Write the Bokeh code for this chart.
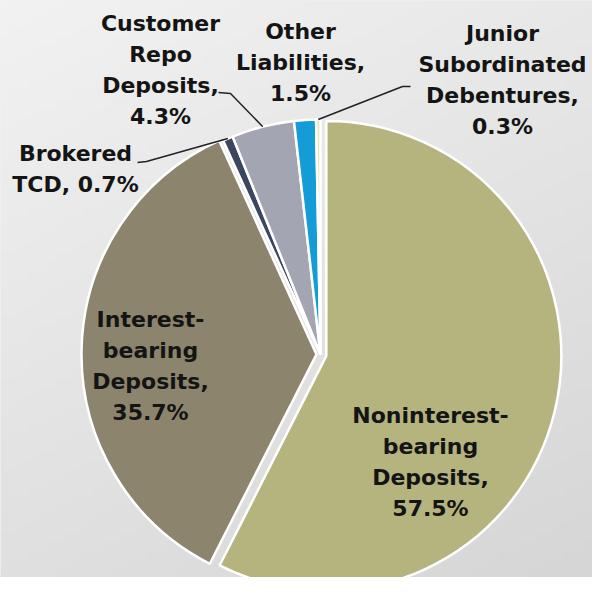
import numpy as np
from bokeh.plotting import figure
from bokeh.models import ColumnDataSource, Range1d
from bokeh.embed import file_html
from bokeh.resources import INLINE
from bokeh.core.properties import value

# ---- data ----
categories = ["Noninterest-bearing Deposits", "Interest-bearing Deposits", "Brokered TCD",
              "Customer Repo Deposits", "Other Liabilities", "Junior Subordinated Debentures"]
label_names = ["Noninterest-\nbearing\nDeposits,", "Interest-\nbearing\nDeposits,", "Brokered\nTCD,",
               "Customer\nRepo\nDeposits,", "Other\nLiabilities,", "Junior\nSubordinated\nDebentures,"]
label_seps = ["\n", "\n", " ", "\n", "\n", "\n"]
shares = [57.5, 35.7, 0.7, 4.3, 1.5, 0.3]
colors = ["#b5b47e", "#8c846c", "#3b4661", "#a3a5b3", "#139cd6", "#e6e5bb"]

# ---- layout (reference pixel coords, y downward) ----
W, H = 592, 577
REF_H = 593
explode = [6, 4, 0, 0, 0, 0]
label_pos = [(430, 461), (150, 365.5), (75, 168), (160, 69.5), (300, 61.5), (502, 79.5)]
leader_idx = [2, 3, 5]
leader_start = [(137, 162), (218, 92), (410, 86)]
leader_elbow = [(146, 161), (230, 93), (402, 86)]
cx, cy_ref, R = 320, 354, 235
cy = REF_H - cy_ref

frac = np.array(shares) / sum(shares)
cum = np.concatenate([[0], np.cumsum(frac)])
t0 = cum[:-1] * 2 * np.pi
t1 = cum[1:] * 2 * np.pi
mid = (t0 + t1) / 2
ex = np.array(explode, dtype=float)
xs = cx + ex * np.sin(mid)
ys = cy + ex * np.cos(mid)

src = ColumnDataSource(dict(x=xs, y=ys, start=np.pi / 2 - t1, end=np.pi / 2 - t0,
                            color=colors, cat=categories))

y0 = REF_H - H
p = figure(width=W, height=H, x_range=Range1d(0, W), y_range=Range1d(y0, REF_H),
           output_backend="svg", toolbar_location=None, min_border=0)
p.axis.visible = False
p.grid.visible = False
p.outline_line_color = None
p.background_fill_color = "#e4e4e4"
p.border_fill_color = "#e4e4e4"

# subtle background gradient (light top-left to darker bottom-right)
n = 64
gx, gy = np.meshgrid(np.linspace(0, 1, n), np.linspace(0, 1, n))  # gy: 0 bottom, 1 top
shade = 214 + 28 * (0.65 * gy + 0.35 * (1 - gx))
img = np.zeros((n, n), dtype=np.uint32)
view = img.view(dtype=np.uint8).reshape((n, n, 4))
view[:, :, 0] = shade.astype(np.uint8)
view[:, :, 1] = shade.astype(np.uint8)
view[:, :, 2] = shade.astype(np.uint8)
view[:, :, 3] = 255
p.image_rgba(image=[img], x=0, y=y0, dw=W, dh=H)

p.wedge(x="x", y="y", radius=R, start_angle="start", end_angle="end", fill_color="color",
        line_color="white", line_width=2.5, source=src)

# leader lines
for k, i in enumerate(leader_idx):
    ex_pt = (xs[i] + R * np.sin(mid[i]), ys[i] + R * np.cos(mid[i]))
    lx = [leader_start[k][0], leader_elbow[k][0], ex_pt[0]]
    ly = [REF_H - leader_start[k][1], REF_H - leader_elbow[k][1], ex_pt[1]]
    p.line(lx, ly, line_color="#222222", line_width=1.5)

texts = [f"{n_}{s}{v:.1f}%" for n_, s, v in zip(label_names, label_seps, shares)]
lsrc = ColumnDataSource(dict(x=[q[0] for q in label_pos], y=[REF_H - q[1] for q in label_pos], t=texts))
p.text(x="x", y="y", text="t", source=lsrc, text_align="center", text_baseline="middle",
       text_font=value("DejaVu Sans"), text_font_style="bold", text_font_size="22px",
       text_line_height=1.24, text_color="#141414")

open("out.html", "w").write(file_html(p, INLINE))
